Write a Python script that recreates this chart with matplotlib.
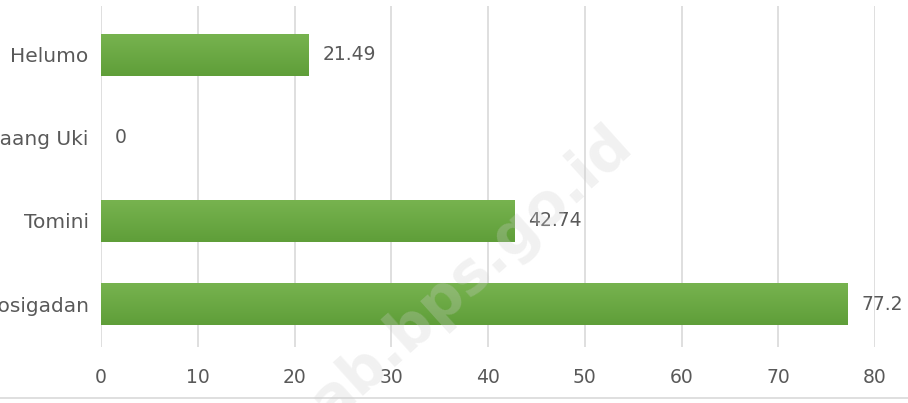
import numpy as np
import matplotlib.pyplot as plt
from matplotlib.lines import Line2D

categories = ["Posigadan", "Tomini", "Bolaang Uki", "Helumo"]
values = [77.2, 42.74, 0, 21.49]
value_labels = ["77.2", "42.74", "0", "21.49"]
xticks = [0, 10, 20, 30, 40, 50, 60, 70, 80]

plt.rcParams['font.family'] = ['DejaVu Sans']
text_color = '#595959'

fig = plt.figure(figsize=(9.08, 4.03), dpi=100)
ax = fig.add_axes([101 / 908, 1 - 347 / 403, 774 / 908, 341 / 403])

ypos = range(len(categories))
bars = ax.barh(ypos, values, height=0.5, color='#6EAB46', linewidth=0, zorder=3)

# vertical gradient on each bar (lighter top, darker bottom)
grad = np.linspace(0, 1, 64).reshape(-1, 1)
cmap = plt.matplotlib.colors.LinearSegmentedColormap.from_list('g', ['#5F9E39', '#77B34F'])
for b in bars:
    if b.get_width() <= 0:
        continue
    x0, y0 = b.get_x(), b.get_y()
    im = ax.imshow(grad, extent=[x0, x0 + b.get_width(), y0, y0 + b.get_height()],
                   aspect='auto', cmap=cmap, origin='lower', zorder=4)
    im.set_clip_path(b)

for y, v, lab in zip(ypos, values, value_labels):
    ax.text(v + 1.4, y, lab, va='center', ha='left', fontsize=13.5, color=text_color, clip_on=False)

ax.set_xlim(0, 80)
ax.set_ylim(-0.518, 3.59)
ax.set_xticks(xticks)
ax.set_yticks(list(ypos))
ax.set_yticklabels(categories)
ax.tick_params(axis='both', length=0, labelsize=13.5, labelcolor=text_color)
ax.tick_params(axis='y', labelsize=14.5, pad=9)
ax.tick_params(axis='x', pad=15)
ax.grid(axis='x', color='#D9D9D9', linewidth=1.2, zorder=0)
for s in ax.spines.values():
    s.set_visible(False)

# bottom border line
fig.add_artist(Line2D([0, 1], [1 - 398 / 403] * 2, color='#D9D9D9', linewidth=1.2, transform=fig.transFigure))

# faint watermark
fig.text(0.52, 0.32, "ab.bps.go.id", rotation=42, fontsize=42, fontweight='bold',
         color='#CFCFCF', alpha=0.28, ha='center', va='center', zorder=10)

fig.savefig('out.png', dpi=100)
